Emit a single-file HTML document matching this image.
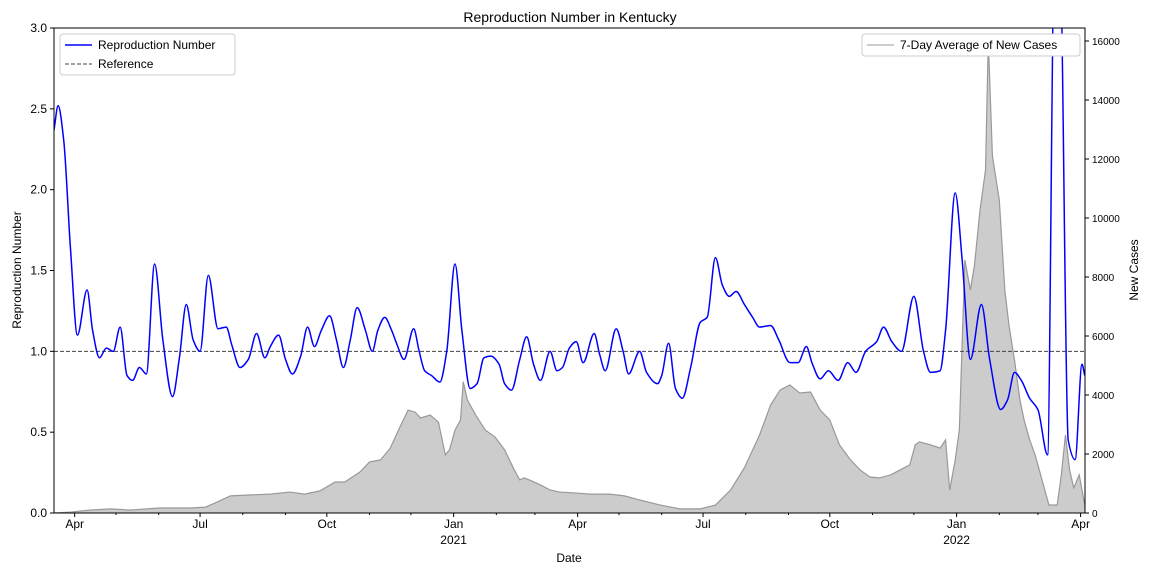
<!DOCTYPE html>
<html><head><meta charset="utf-8"><style>
body{margin:0;background:#fff;font-family:"Liberation Sans",sans-serif}
svg text{font-family:"Liberation Sans",sans-serif}
</style></head><body>
<svg id="c" width="1152" height="576"></svg>
<script>
const rDays=[0,3,7,12,17,24,28,33,38,43,48,53,57,62,67,73,79,86,91,96,101,106,112,119,125,129,135,141,147,153,157,163,168,173,179,184,189,194,200,205,210,215,220,226,231,235,240,245,249,254,261,265,269,274,280,285,291,296,302,307,312,317,323,327,332,338,343,348,353,360,365,369,374,379,384,392,396,400,408,413,417,425,430,438,441,446,451,456,462,469,474,480,485,490,495,501,507,512,520,526,534,540,546,550,556,562,569,576,582,589,597,602,608,615,624,631,636,643,647,654,659,665,673,679,687,692,697,702,708,714,721,726,730,736,741,746,748];
const rVals=[2.37,2.52,2.31,1.63,1.10,1.38,1.13,0.96,1.02,1.0,1.15,0.85,0.82,0.90,0.86,1.54,1.07,0.72,0.96,1.29,1.07,1.0,1.47,1.14,1.15,1.04,0.90,0.95,1.11,0.96,1.03,1.10,0.95,0.86,0.97,1.15,1.03,1.13,1.22,1.07,0.90,1.07,1.27,1.13,1.0,1.13,1.21,1.13,1.04,0.95,1.14,1.0,0.88,0.85,0.81,1.0,1.54,1.13,0.77,0.80,0.96,0.97,0.92,0.80,0.76,0.95,1.09,0.92,0.82,1.0,0.88,0.90,1.02,1.06,0.93,1.11,0.98,0.88,1.14,1.0,0.86,1.0,0.87,0.80,0.85,1.05,0.77,0.71,0.90,1.18,1.21,1.58,1.41,1.34,1.37,1.29,1.21,1.15,1.16,1.07,0.93,0.93,1.03,0.93,0.83,0.88,0.82,0.93,0.87,1.0,1.06,1.15,1.06,1.0,1.34,1.0,0.87,0.88,1.13,1.98,1.57,0.95,1.29,0.95,0.64,0.70,0.87,0.82,0.71,0.64,0.36,3.4,3.4,0.45,0.33,0.92,0.85];
const cDays=[0,12,26,41,55,77,99,110,117,128,142,157,171,182,193,204,211,222,229,237,244,251,257,262,266,273,279,284,287,291,295,297,300,306,313,320,327,334,338,341,345,353,360,367,378,389,403,414,425,440,454,469,480,491,501,512,520,527,534,541,549,556,563,570,578,585,592,599,607,614,621,625,628,636,643,647,650,654,657,661,665,668,672,676,678,681,686,690,693,697,701,704,708,712,715,719,722,728,731,734,737,740,744,748];
const cVals=[0,30,100,140,100,170,170,200,340,580,610,640,710,640,750,1050,1050,1390,1730,1800,2200,2910,3490,3420,3220,3320,3080,1970,2140,2810,3150,4450,3830,3320,2810,2580,2140,1460,1120,1190,1120,950,780,710,680,640,640,580,440,270,140,140,270,780,1530,2640,3660,4170,4340,4070,4100,3490,3150,2310,1800,1460,1220,1190,1290,1460,1630,2310,2410,2310,2200,2480,780,1800,2820,8580,7560,8410,10270,11630,16030,12100,10610,7560,6370,5190,3830,3150,2480,1970,1460,780,270,270,1290,2640,1460,850,1290,270];
const yTicks=[0,0.5,1,1.5,2,2.5,3];
const y2Ticks=[0,2000,4000,6000,8000,10000,12000,14000,16000];
const L=54,R=1085,T=28,B=513,start=new Date(2020,2,17);
const X=d=>L+d*1.378, Y=v=>B-(v/3)*(B-T), Y2=v=>B-v*0.0295;
const NS="http://www.w3.org/2000/svg",svg=document.getElementById('c');
function el(t,a,p){const e=document.createElementNS(NS,t);for(const k in a)e.setAttribute(k,a[k]);(p||svg).appendChild(e);return e;}
function txt(s,a){const e=el('text',a);e.textContent=s;return e;}
const cl=el('clipPath',{id:'clp'});el('rect',{x:L,y:T,width:R-L,height:B-T},cl);
let d='M'+X(cDays[0])+','+B;cDays.forEach((dd,i)=>d+='L'+X(dd)+','+Y2(cVals[i]));d+='L'+X(cDays[cDays.length-1])+','+B+'Z';
const area=el('path',{d:d,fill:'#cccccc',stroke:'none','clip-path':'url(#clp)'});

let d2='';cDays.forEach((dd,i)=>d2+=(i?'L':'M')+X(dd)+','+Y2(cVals[i]));
const cl2=el('path',{d:d2,fill:'none',stroke:'#999',"stroke-width":1.2,'clip-path':'url(#clp)'});

const ref=el('line',{x1:L,x2:R,y1:Y(1),y2:Y(1),stroke:'#444','stroke-dasharray':'4,2','stroke-width':1});

// monotone cubic
const px=rDays.map(X),py=rVals.map(Y),n=px.length;
const dl=[],m=[];for(let i=0;i<n-1;i++)dl.push((py[i+1]-py[i])/(px[i+1]-px[i]));
m[0]=dl[0];m[n-1]=dl[n-2];
for(let i=1;i<n-1;i++){if(dl[i-1]*dl[i]<=0)m[i]=0;else{const h0=px[i]-px[i-1],h1=px[i+1]-px[i];const w1=2*h1+h0,w2=h1+2*h0;m[i]=(w1+w2)/(w1/dl[i-1]+w2/dl[i]);}}
let p='M'+px[0]+','+py[0];
for(let i=0;i<n-1;i++){const h=(px[i+1]-px[i])/3;p+='C'+(px[i]+h)+','+(py[i]+m[i]*h)+' '+(px[i+1]-h)+','+(py[i+1]-m[i+1]*h)+' '+px[i+1]+','+py[i+1];}
const rl=el('path',{d:p,fill:'none',stroke:'#0000ff','stroke-width':1.5,'clip-path':'url(#clp)'});

el('rect',{x:L,y:T,width:R-L,height:B-T,fill:'none',stroke:'#000','stroke-width':1});
yTicks.forEach(v=>{el('line',{x1:L-4,x2:L,y1:Y(v),y2:Y(v),stroke:'#000'});const t=txt(v.toFixed(1),{x:L-7,y:Y(v)+4,'text-anchor':'end','font-size':12});});
y2Ticks.forEach(v=>{el('line',{x1:R,x2:R+4,y1:Y2(v),y2:Y2(v),stroke:'#000'});const t=txt(String(v),{x:R+7,y:Y2(v)+4,'font-size':10});});
const names=['Jan','Feb','Mar','Apr','May','Jun','Jul','Aug','Sep','Oct','Nov','Dec'];
for(let mo=3;mo<=27;mo++){const dt=new Date(2020,mo,1);const dd=Math.round((dt-start)/864e5);const x=X(dd);if(x>R+1)break;
const maj=dt.getMonth()%3==0;el('line',{x1:x,x2:x,y1:B,y2:B+(maj?4:2),stroke:'#000'});
if(maj){const t=txt(names[dt.getMonth()],{x:x,y:B+15,'text-anchor':'middle','font-size':12});
if(dt.getMonth()==0){const t2=txt(String(dt.getFullYear()),{x:x,y:B+31,'text-anchor':'middle','font-size':12});}}}
let t;
t=txt('Reproduction Number in Kentucky',{x:570,y:22,'text-anchor':'middle','font-size':14});
t=txt('Date',{x:569,y:562,'text-anchor':'middle','font-size':12});
t=txt('Reproduction Number',{x:0,y:0,transform:'translate(21,270) rotate(-90)','text-anchor':'middle','font-size':12});
t=txt('New Cases',{x:0,y:0,transform:'translate(1138,270) rotate(-90)','text-anchor':'middle','font-size':12});
let g=el('g',{});
el('rect',{x:60,y:34,width:175,height:41,fill:'#fff',stroke:'#ccc',rx:3},g);
el('line',{x1:65,x2:92,y1:45,y2:45,stroke:'#00f','stroke-width':1.5},g);
el('text',{x:98,y:49,'font-size':12},g).textContent='Reproduction Number';
el('line',{x1:65,x2:92,y1:64,y2:64,stroke:'#444','stroke-dasharray':'4,2'},g);
el('text',{x:98,y:68,'font-size':12},g).textContent='Reference';
g=el('g',{});
el('rect',{x:862,y:34,width:218,height:22,fill:'#fff',stroke:'#ccc',rx:3},g);
el('line',{x1:867,x2:894,y1:45,y2:45,stroke:'#bbb','stroke-width':1.5},g);
el('text',{x:900,y:49,'font-size':12},g).textContent='7-Day Average of New Cases';
</script></body></html>
